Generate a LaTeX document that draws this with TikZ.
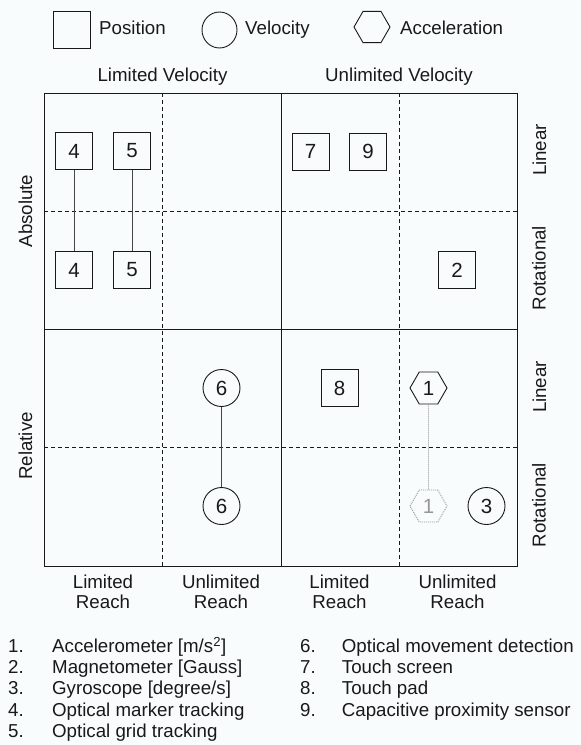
\documentclass[tikz,border=0pt]{standalone}
\usepackage{fontspec}
\setmainfont{Liberation Sans}
\usetikzlibrary{shapes.geometric}
\definecolor{bg}{RGB}{248,252,253}
\definecolor{ink}{RGB}{25,25,25}
\definecolor{linkc}{RGB}{70,70,70}
\definecolor{ghost}{RGB}{150,150,150}
\begin{document}
\begin{tikzpicture}[x=1pt,y=-1pt,
  lbl/.style={font=\fontsize{18.7}{21}\selectfont, inner sep=0pt, text=ink},
  axis/.style={font=\fontsize{18.7}{21}\selectfont, inner sep=0pt, text=ink, align=center},
  num/.style={font=\fontsize{20.5}{24}\selectfont, inner sep=0pt, line width=0.9pt, draw=ink, text=ink, fill=bg},
  posbox/.style={num, rectangle, minimum size=37pt},
  velbox/.style={num, circle, minimum size=37pt},
  accbox/.style={num, regular polygon, regular polygon sides=6, minimum size=37pt},
  gridline/.style={draw=ink, line width=0.9pt},
  gdash/.style={draw=ink, line width=0.8pt, dash pattern=on 4pt off 3pt},
  link/.style={draw=linkc, line width=0.8pt},
  dotlink/.style={draw=ghost, line width=0.8pt, dash pattern=on 1pt off 1pt}
]
\fill[bg] (0,0) rectangle (581,745);
\useasboundingbox (0,0) rectangle (581,745);

% legend
\node[posbox] (lpos) at (71.5,29.5) {};
\node[lbl, anchor=base west] (lposT) at (99,34.3) {Position};
\node[num, ellipse, minimum width=35pt, minimum height=36pt] (lvel) at (219.5,30) {};
\node[lbl, anchor=base west] (lvelT) at (245,34.3) {Velocity};
\node[num, regular polygon, regular polygon sides=6, minimum size=36pt] (lacc) at (372,27) {};
\node[lbl, anchor=base west] (laccT) at (400,34.3) {Acceleration};

% column headers
\node[axis, anchor=base] (hl) at (162.5,81.5) {Limited Velocity};
\node[axis, anchor=base] (hu) at (399,81.5) {Unlimited Velocity};

% grid
\draw[gdash] (162.5,93) -- (162.5,566);
\draw[gdash] (399,93) -- (399,566);
\draw[gdash] (44,211) -- (517,211);
\draw[gdash] (44,447) -- (517,447);
\draw[gridline] (281,93) -- (281,566);
\draw[gridline] (44,329) -- (517,329);
\draw[gridline] (44,93) rectangle (517,566);

% side labels
\node[axis, rotate=90] (sabs) at (25.5,211) {Absolute};
\node[axis, rotate=90] (srel) at (25.5,446) {Relative};
\node[axis, rotate=90] (sl1) at (539.5,150) {Linear};
\node[axis, rotate=90] (sr1) at (539,268) {Rotational};
\node[axis, rotate=90] (sl2) at (539.5,387) {Linear};
\node[axis, rotate=90] (sr2) at (539,505) {Rotational};

% bottom labels
\node[axis, anchor=base] (b1a) at (103,588) {Limited};
\node[axis, anchor=base] (b1b) at (103,608) {Reach};
\node[axis, anchor=base] (b2a) at (221,588) {Unlimited};
\node[axis, anchor=base] (b2b) at (221,608) {Reach};
\node[axis, anchor=base] (b3a) at (339.5,588) {Limited};
\node[axis, anchor=base] (b3b) at (339.5,608) {Reach};
\node[axis, anchor=base] (b4a) at (457.5,588) {Unlimited};
\node[axis, anchor=base] (b4b) at (457.5,608) {Reach};

% sensors
\node[posbox] (a4) at (74,151) {4};
\node[posbox] (b4) at (74,270) {4};
\node[posbox] (a5) at (132,151) {5};
\node[posbox] (b5) at (132,270) {5};
\node[posbox] (s7) at (310.5,151.5) {7};
\node[posbox] (s9) at (368,151.5) {9};
\node[posbox] (s2) at (457,270) {2};
\node[velbox] (a6) at (221.5,388) {6};
\node[velbox] (b6) at (221.5,506) {6};
\node[posbox] (s8) at (339.5,388) {8};
\node[accbox] (a1) at (428.5,388) {1};
\node[accbox, draw=ghost, text=ghost, dash pattern=on 1pt off 1pt] (b1) at (428.5,506) {1};
\node[velbox] (s3) at (486.5,506) {3};

\draw[link] (a4) -- (b4);
\draw[link] (a5) -- (b5);
\draw[link] (a6) -- (b6);
\draw[dotlink] (a1) -- (b1);

% list
\foreach \n/\t/\k in {1/{Accelerometer [m/s\textsuperscript{2}]}/0, 2/{Magnetometer [Gauss]}/1, 3/{Gyroscope [degree/s]}/2, 4/{Optical marker tracking}/3, 5/{Optical grid tracking}/4}{
  \node[lbl, anchor=base west] (ln\n) at (8,652.5+21.2*\k) {\n.};
  \node[lbl, anchor=base west] (lt\n) at (52,652.5+21.2*\k) {\t};
}
\foreach \n/\t/\k in {6/{Optical movement detection}/0, 7/{Touch screen}/1, 8/{Touch pad}/2, 9/{Capacitive proximity sensor}/3}{
  \node[lbl, anchor=base west] (ln\n) at (300,652.5+21.2*\k) {\n.};
  \node[lbl, anchor=base west] (lt\n) at (341.7,652.5+21.2*\k) {\t};
}
\end{tikzpicture}
\end{document}
